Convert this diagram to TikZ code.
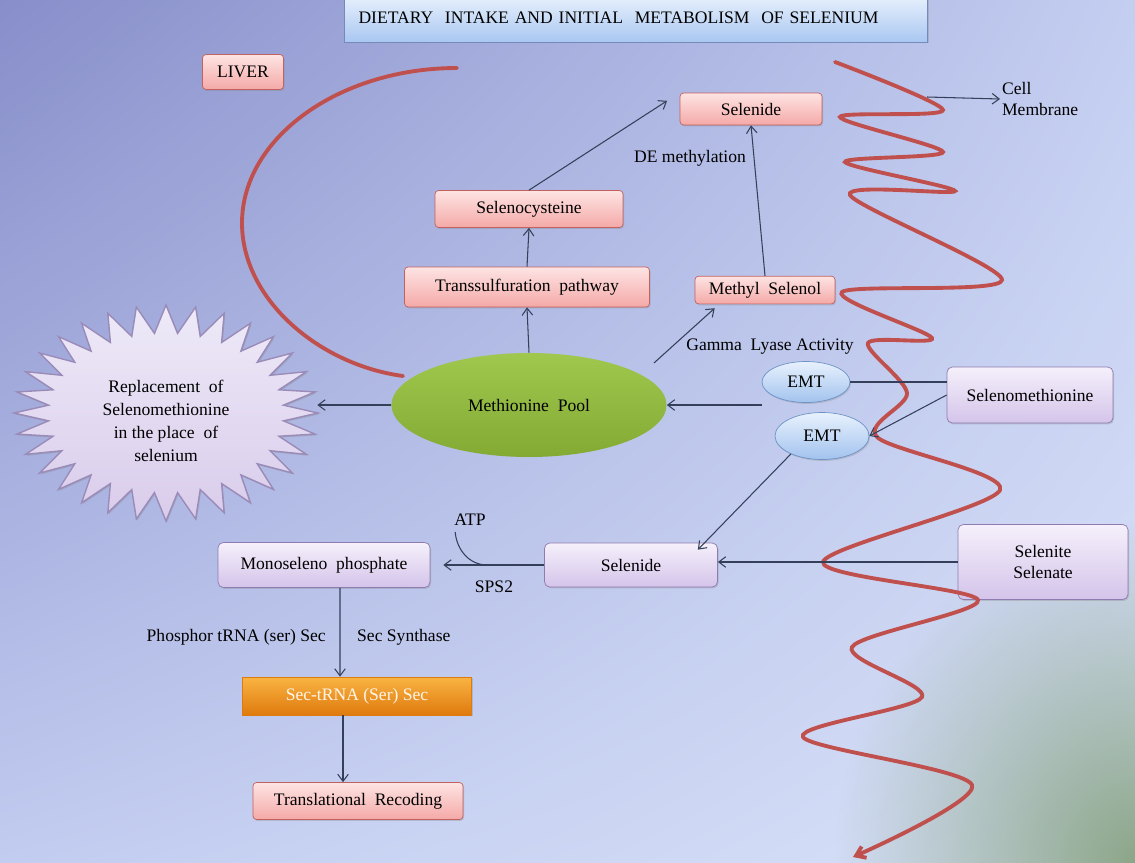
\documentclass[tikz,border=0pt]{standalone}
\usepackage{fontspec}
\setmainfont{Liberation Serif}
\usepackage{tikz}
\usetikzlibrary{arrows.meta}
\usetikzlibrary{shapes}
\usetikzlibrary{positioning}
\usetikzlibrary{calc}
\usetikzlibrary{fadings}
\usetikzlibrary{shadings}
\usetikzlibrary{shadows}
\definecolor{bgtl}{HTML}{878ECA}
\definecolor{bgtr}{HTML}{C4CEF1}
\definecolor{bgbl}{HTML}{C2CCF0}
\definecolor{bgbr}{HTML}{D8E2F8}
\definecolor{bggreen}{HTML}{8CA689}
\definecolor{memred}{HTML}{C0504D}
\definecolor{flowgray}{HTML}{34405A}
\definecolor{pinktop}{HTML}{FDE4E3}
\definecolor{pinkbot}{HTML}{F4A9A7}
\definecolor{pinkedge}{HTML}{C2615E}
\definecolor{lilactop}{HTML}{F5F0FB}
\definecolor{lilacbot}{HTML}{D4C4EA}
\definecolor{lilacedge}{HTML}{8E7BAF}
\definecolor{emttop}{HTML}{E8F1FD}
\definecolor{emtbot}{HTML}{A2C3EE}
\definecolor{emtedge}{HTML}{6E93C5}
\definecolor{titletop}{HTML}{EAF2FD}
\definecolor{titlebot}{HTML}{A9C7F1}
\definecolor{titleedge}{HTML}{7689B8}
\definecolor{orangetop}{HTML}{F9B442}
\definecolor{orangebot}{HTML}{DF7A0E}
\definecolor{poolgreen}{HTML}{95C13A}
\definecolor{bursttop}{HTML}{EEEAF8}
\definecolor{burstbot}{HTML}{D9CCEB}
\definecolor{burstedge}{HTML}{9A8BB8}
\tikzfading[name=cornerfade, inner color=transparent!0, outer color=transparent!100]
\tikzstyle{boxshadow}=[drop shadow={shadow xshift=0.6pt, shadow yshift=-0.8pt, opacity=0.3}]
\tikzstyle{pinkbox}=[rectangle, rounded corners=2pt, draw=pinkedge, top color=pinktop, bottom color=pinkbot, boxshadow]
\tikzstyle{lilacbox}=[rectangle, rounded corners=3pt, draw=lilacedge, top color=lilactop, bottom color=lilacbot, boxshadow]
\tikzstyle{emt}=[ellipse, draw=emtedge, top color=emttop, bottom color=emtbot, boxshadow]
\tikzstyle{titlebox}=[rectangle, draw=titleedge, top color=titletop, bottom color=titlebot, boxshadow]
\tikzstyle{orangebox}=[rectangle, draw=orangebot, top color=orangetop, bottom color=orangebot, text=orange!8, boxshadow]
\tikzstyle{poolnode}=[ellipse, top color=poolgreen!90!white, bottom color=poolgreen!88!black]
\tikzstyle{burst}=[draw=burstedge, top color=bursttop, bottom color=burstbot, thick, boxshadow]
\tikzstyle{membrane}=[draw=memred, line width=2.2pt, line cap=round]
\tikzstyle{flow}=[->, flowgray, line width=0.6pt]

\begin{document}
\begin{tikzpicture}[x=0.02cm, y=-0.02cm, >={Straight Barb[length=4pt,width=6pt]}]
	\useasboundingbox (0,0) rectangle (1135,862);
	\clip (0,0) rectangle (1135,862);
	% background
	\shade[upper left=bgtl, upper right=bgtr, lower left=bgbl, lower right=bgbr] (0,0) rectangle (1135,862);
	\fill[bggreen, path fading=cornerfade] (1135,862) ellipse (300 and 340);

	\node (title) at (636,18) [titlebox, minimum width=11.66cm, minimum height=0.96cm, text width=11.1cm, align=left] {DIETARY~ INTAKE AND INITIAL~ METABOLISM~ OF SELENIUM};
	\node (liver) at (243,72) [pinkbox, minimum width=1.62cm, minimum height=0.7cm] {LIVER};
	\node (cellm) at (1000,99) [anchor=west, align=left, inner sep=1pt] {Cell\\Membrane};

	% liver pathway
	\node (selA) at (751,109) [pinkbox, minimum width=2.84cm, minimum height=0.64cm] {Selenide};
	\node (cys) at (529,209) [pinkbox, minimum width=3.76cm, minimum height=0.74cm] {Selenocysteine};
	\node (transs) at (527,287) [pinkbox, minimum width=4.9cm, minimum height=0.8cm] {Transsulfuration~ pathway};
	\node (methyl) at (765,290) [pinkbox, minimum width=2.8cm, minimum height=0.52cm] {Methyl~ Selenol};
	\node (pool) at (529,405) [poolnode, minimum width=5.5cm, minimum height=2.08cm] {Methionine~ Pool};
	\node (emtA) at (806,382) [emt, minimum width=1.76cm, minimum height=0.82cm] {EMT};
	\node (emtB) at (822,436) [emt, minimum width=1.88cm, minimum height=0.94cm] {EMT};
	\node (selmet) at (1030,395) [lilacbox, minimum width=3.32cm, minimum height=1.12cm] {Selenomethionine};
	\node (demeth) at (690,158) {DE methylation};
	\node (gamma) at (770,347) {Gamma~ Lyase Activity};

	% replacement burst
	\draw[burst] plot[samples at={0,...,63}, variable=\k]
		({166+ifthenelse(mod(\k,2)==0,152,118)*cos(\k*5.625)}, {413+ifthenelse(mod(\k,2)==0,108,80)*sin(\k*5.625)}) -- cycle;
	\node (replace) at (166,421) [ellipse, align=center, font=\fontsize{10}{13}\selectfont, minimum width=6.04cm, minimum height=3.8cm] {Replacement~ of\\Selenomethionine\\in the place~ of\\selenium};

	% selenite route
	\node (selite) at (1043,562) [lilacbox, minimum width=3.4cm, minimum height=1.5cm, align=center] {Selenite\\Selenate};
	\node (selB) at (631,565) [lilacbox, minimum width=3.46cm, minimum height=0.88cm] {Selenide};
	\node (mono) at (324,565) [lilacbox, minimum width=4.24cm, minimum height=0.9cm] {Monoseleno~ phosphate};
	\node (sectrna) at (357,696) [orangebox, minimum width=4.58cm, minimum height=0.76cm] {Sec-tRNA (Ser) Sec};
	\node (transl) at (358,801) [pinkbox, minimum width=4.2cm, minimum height=0.74cm] {Translational~ Recoding};
	\node (atp) at (470,520) {ATP};
	\node (sps) at (494,587) {SPS2};
	\node (phos) at (332,637) [anchor=east] {Phosphor tRNA (ser) Sec};
	\node (secsyn) at (351,637) [anchor=west] {Sec Synthase};

	% membranes
	\draw[membrane] (457,68) .. controls (339,68) and (242,138) .. (242,223)
		.. controls (242,300) and (320,365) .. (403,376);
	\draw[membrane, -{Straight Barb[length=5pt,width=7pt]}] plot[smooth, tension=0.5] coordinates {
		(835,62) (943,110) (840,117) (943,152) (845,162) (955,191) (850,195)
		(1002,280) (842,292) (932,338) (868,343) (907,393) (877,437)
		(1000,490) (823,562) (978,600) (852,647) (922,697) (803,737)
		(972,785) (853,857)};
	\coordinate (memtop) at (927,97);

	\path[flow]
		(memtop) edge (cellm.west)
		(pool.north) edge (transs.south)
		(transs.north) edge (cys.south)
		(cys.north) edge[shorten >=0.3cm] (selA.north west)
		(methyl.north) edge (selA.south)
		([xshift=0.55cm,yshift=0.1cm]pool.north east) edge ([xshift=0.4cm,yshift=-0.08cm]methyl.south west)
		(emtA.east) edge[-] (emtA.east -| selmet.west)
		(emtA.west |- pool.east) edge (pool.east)
		(selmet.west) edge (emtB.east)
		(emtB.210) edge ([xshift=-0.4cm,yshift=-0.14cm]selB.north east)
		(selite.west) edge (selite.west -| selB.east)
		(pool.west) edge (pool.west -| replace.east)
		([xshift=0.32cm]mono.south) edge ([xshift=-0.34cm]sectrna.north)
		([xshift=-0.28cm]sectrna.south) edge ([xshift=-0.3cm]transl.north);
	\draw[flow, shorten >=0.26cm] (selB.west) -- coordinate[pos=0.5] (atpfoot) (mono.east);
	\draw[flowgray, line width=0.6pt] (atpfoot) to[out=180, in=-85] ([xshift=0.14cm]atp.south west);
\end{tikzpicture}
\end{document}
